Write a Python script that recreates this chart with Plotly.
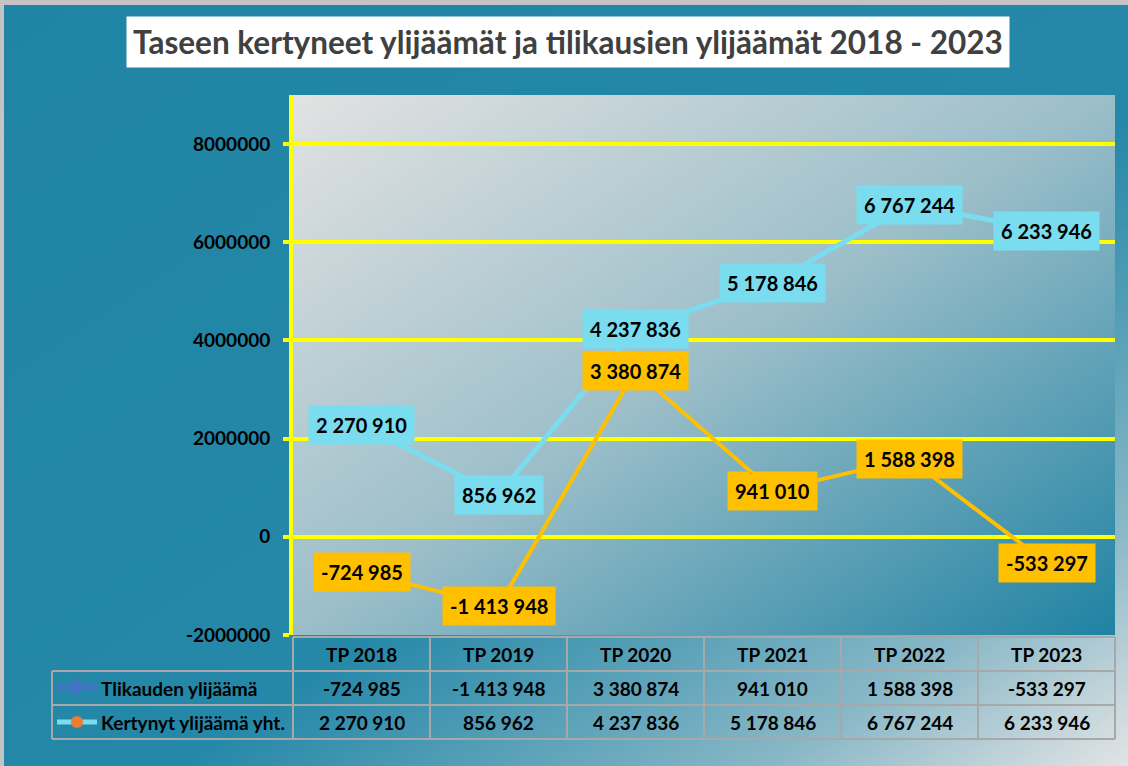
import base64
import plotly.graph_objects as go

# ---------------- data ----------------
categories = ["TP 2018", "TP 2019", "TP 2020", "TP 2021", "TP 2022", "TP 2023"]
tilikauden = [-724985, -1413948, 3380874, 941010, 1588398, -533297]
kertynyt = [2270910, 856962, 4237836, 5178846, 6767244, 6233946]
series_names = ["Tlikauden ylijäämä", "Kertynyt ylijäämä yht."]
y_tickvals = [-2000000, 0, 2000000, 4000000, 6000000, 8000000]
y_ticktext = ["-2000000", "0", "2000000", "4000000", "6000000", "8000000"]
title_text = "Taseen kertyneet ylijäämät ja tilikausien ylijäämät 2018 - 2023"

# ---------------- layout geometry (pixels) ----------------
W, H = 1128, 766
L, R, T, B = 293, 1115, 95, 635
FONT = "Lato"


def px(x):
    return (x - L) / (R - L)


def py(y):
    return (B - y) / (B - T)


def fmt(v):
    return f"{v:,}".replace(",", " ")


def svg_grad(stops):
    st = "".join(f"<stop offset='{o}' stop-color='{c}'/>" for o, c in stops)
    svg = ("<svg xmlns='http://www.w3.org/2000/svg' width='100' height='100' viewBox='0 0 100 100' "
           "preserveAspectRatio='none'><defs><linearGradient id='g' x1='0' y1='0' x2='1' y2='1'>"
           + st + "</linearGradient></defs><rect x='0' y='0' width='100' height='100' fill='url(#g)'/></svg>")
    return "data:image/svg+xml;base64," + base64.b64encode(svg.encode()).decode()


CYAN = "#79DDEF"
ORANGE = "#FFC000"
BLUE = "#4472C4"
DOT = "#ED7D31"

fig = go.Figure()
fig.add_trace(go.Scatter(x=categories, y=tilikauden, name=series_names[0], mode="lines+markers",
                         line=dict(color=ORANGE, width=4),
                         marker=dict(symbol="diamond", size=8, color=BLUE), showlegend=False))
fig.add_trace(go.Scatter(x=categories, y=kertynyt, name=series_names[1], mode="lines+markers",
                         line=dict(color=CYAN, width=5),
                         marker=dict(symbol="circle", size=12, color=DOT), showlegend=False))

annotations = []
# data labels
for vals, col in ((tilikauden, ORANGE), (kertynyt, CYAN)):
    for c, v in zip(categories, vals):
        annotations.append(dict(x=c, y=v, xref="x", yref="y", text=fmt(v), showarrow=False,
                                xanchor="center", yanchor="middle",
                                bgcolor=col, borderpad=7,
                                font=dict(family=FONT, size=20, color="black", weight="bold")))

# title
annotations.append(dict(x=px(567.5), y=py(42.5), xref="paper", yref="paper", text=title_text,
                        showarrow=False, bgcolor="white", borderpad=6,
                        xanchor="center", yanchor="middle",
                        font=dict(family=FONT, size=31.5, color="#404040", weight="bold")))

# table texts
row_y = [654, 688, 722]
for c in categories:
    annotations.append(dict(x=c, y=py(row_y[0]), xref="x", yref="paper", text=c, showarrow=False,
                            xanchor="center", yanchor="middle",
                            font=dict(family=FONT, size=19, color="black", weight="bold")))
for ri, vals in enumerate((tilikauden, kertynyt)):
    for c, v in zip(categories, vals):
        annotations.append(dict(x=c, y=py(row_y[ri + 1]), xref="x", yref="paper", text=fmt(v),
                                showarrow=False, xanchor="center", yanchor="middle",
                                font=dict(family=FONT, size=19, color="black", weight="bold")))
    annotations.append(dict(x=px(99), y=py(row_y[ri + 1]), xref="paper", yref="paper",
                            text=series_names[ri], showarrow=False, xanchor="left", yanchor="middle",
                            font=dict(family=FONT, size=19, color="black", weight="bold")))

shapes = []
GRID = "#A8A8A8"
ncat = len(categories)
# horizontal table lines
shapes.append(dict(type="line", xref="paper", yref="paper", x0=0, x1=1, y0=py(637), y1=py(637),
                   line=dict(color=GRID, width=2)))
for yy in (671, 705, 739):
    shapes.append(dict(type="line", xref="paper", yref="paper", x0=px(52), x1=1, y0=py(yy), y1=py(yy),
                       line=dict(color=GRID, width=2)))
# vertical table lines
shapes.append(dict(type="line", xref="paper", yref="paper", x0=px(52), x1=px(52), y0=py(671), y1=py(739),
                   line=dict(color=GRID, width=2)))
for k in range(ncat + 1):
    shapes.append(dict(type="line", xref="paper", yref="paper", x0=k / ncat, x1=k / ncat,
                       y0=py(637), y1=py(739), line=dict(color=GRID, width=2)))
# legend keys
shapes.append(dict(type="line", xref="paper", yref="paper", x0=px(57), x1=px(97), y0=py(687), y1=py(687),
                   line=dict(color=BLUE, width=5)))
dpath = "M{:.5f},{:.5f}L{:.5f},{:.5f}L{:.5f},{:.5f}L{:.5f},{:.5f}Z".format(
    px(77), py(679), px(85), py(687), px(77), py(695), px(69), py(687))
shapes.append(dict(type="path", xref="paper", yref="paper", path=dpath,
                   fillcolor=BLUE, line=dict(color=BLUE, width=1)))
shapes.append(dict(type="line", xref="paper", yref="paper", x0=px(57), x1=px(97), y0=py(722), y1=py(722),
                   line=dict(color=CYAN, width=5)))
shapes.append(dict(type="circle", xref="paper", yref="paper", x0=px(71), x1=px(83), y0=py(728), y1=py(716),
                   fillcolor=DOT, line=dict(width=0)))
# outer frame (top/left light border)
shapes.append(dict(type="rect", xref="paper", yref="paper", x0=px(0), x1=px(4), y0=py(766), y1=py(0),
                   fillcolor="#C4C4C4", line=dict(width=0), layer="below"))
shapes.append(dict(type="rect", xref="paper", yref="paper", x0=px(0), x1=px(1128), y0=py(5), y1=py(0),
                   fillcolor="#C4C4C4", line=dict(width=0), layer="below"))

images = [
    dict(source=svg_grad([(0, "#2084A5"), (0.58, "#2588A8"), (0.84, "#88B7C6"), (1, "#E2E4E5")]),
         xref="paper", yref="paper", x=px(0), y=py(0), sizex=W / (R - L), sizey=H / (B - T),
         xanchor="left", yanchor="top", sizing="stretch", layer="below"),
    dict(source=svg_grad([(0, "#E2E2E2"), (0.5, "#9BBEC9"), (1, "#1F82A3")]),
         xref="paper", yref="paper", x=0, y=1, sizex=1, sizey=1,
         xanchor="left", yanchor="top", sizing="stretch", layer="below"),
]

fig.update_layout(
    width=W, height=H,
    margin=dict(l=L, r=W - R, t=T, b=H - B, pad=0),
    paper_bgcolor="#2186A6",
    plot_bgcolor="rgba(0,0,0,0)",
    showlegend=False,
    annotations=annotations,
    shapes=shapes,
    images=images,
    xaxis=dict(type="category", range=[-0.5, ncat - 0.5], showgrid=False, showline=False,
               showticklabels=False, ticks="", zeroline=False, fixedrange=True),
    yaxis=dict(range=[-2000000, 9000000], tickvals=y_tickvals, ticktext=y_ticktext,
               showgrid=True, gridcolor="#FFFF00", gridwidth=4, zeroline=False,
               showline=True, linecolor="#FFFF00", linewidth=4,
               ticks="outside", ticklen=6, tickwidth=4, tickcolor="#FFFF00",
               ticklabelstandoff=9,
               tickfont=dict(family=FONT, size=19, color="black", weight="bold"), fixedrange=True),
)

fig.write_html("out.html", config={"displayModeBar": False},
               post_script="document.body.style.margin='0px';")
